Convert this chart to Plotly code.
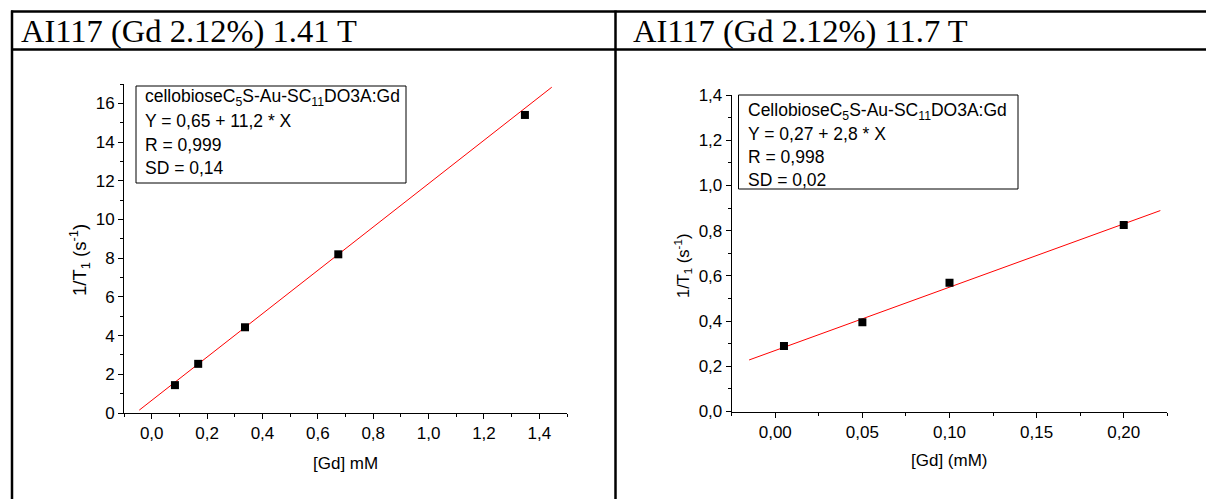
import plotly.graph_objects as go

# ---- data -------------------------------------------------------------
# 1.41 T relaxivity series
gd_141 = [0.084, 0.168, 0.337, 0.674, 1.348]          # [Gd] mM
r1_141 = [1.44, 2.54, 4.43, 8.20, 15.40]              # 1/T1 (s^-1)
fit_141 = {"a": 0.65, "b": 11.2, "x0": -0.045, "x1": 1.445}
stats_141 = ["cellobioseC<sub>5</sub>S-Au-SC<sub>11</sub>DO3A:Gd",
             "Y = 0,65 + 11,2 * X", "R = 0,999", "SD = 0,14"]

# 11.7 T relaxivity series
gd_117 = [0.005, 0.05, 0.10, 0.20]                    # [Gd] mM
r1_117 = [0.29, 0.395, 0.57, 0.825]                   # 1/T1 (s^-1)
fit_117 = {"a": 0.27, "b": 2.8, "x0": -0.015, "x1": 0.221}
stats_117 = ["CellobioseC<sub>5</sub>S-Au-SC<sub>11</sub>DO3A:Gd",
             "Y = 0,27 + 2,8 * X", "R = 0,998", "SD = 0,02"]

headers = ["AI117 (Gd 2.12%) 1.41 T", "AI117 (Gd 2.12%) 11.7 T"]

# ---- page geometry (pixels) -----------------------------------------
W, H = 1206, 499
def fx(p):
    return p / W
def fy(p):
    return 1 - p / H

SANS = "Liberation Sans, Arial, sans-serif"
SERIF = "Liberation Serif, Times New Roman, serif"
FS = 17

fig = go.Figure()

def add_panel(xs, ys, fit, xa, ya):
    lx = [fit["x0"], fit["x1"]]
    ly = [fit["a"] + fit["b"] * v for v in lx]
    fig.add_trace(go.Scatter(x=lx, y=ly, mode="lines", xaxis=xa, yaxis=ya,
                             line=dict(color="#ff0000", width=1),
                             hoverinfo="skip"))
    fig.add_trace(go.Scatter(x=xs, y=ys, mode="markers", xaxis=xa, yaxis=ya,
                             marker=dict(symbol="square", size=8, color="black",
                                         line=dict(width=0))))

add_panel(gd_141, r1_141, fit_141, "x", "y")
add_panel(gd_117, r1_117, fit_117, "x2", "y2")

def axis(domain, rng, dtick, minor, fmt, anchor):
    return dict(domain=domain, range=rng, dtick=dtick, tick0=0,
                tickformat=fmt, anchor=anchor, automargin=False,
                showline=True, linecolor="black", linewidth=1,
                ticks="outside", ticklen=5, tickwidth=1, tickcolor="black",
                minor=dict(dtick=minor, ticks="outside", ticklen=3,
                           tickwidth=1, tickcolor="black"),
                showgrid=False, zeroline=False,
                tickfont=dict(family=SANS, size=FS, color="black"))

# left panel frame: x 124..567, y 84..413 ; right panel frame: x 731.7..1167.3, y 95..411.5
fig.update_layout(
    xaxis=axis([fx(124), fx(567)], [-0.1, 1.5], 0.2, 0.1, ".1f", "y"),
    yaxis=axis([fy(413), fy(84)], [0, 17], 2, 1, "d", "x"),
    xaxis2=axis([fx(731.7), fx(1167.3)], [-0.025, 0.225], 0.05, 0.025, ".2f", "y2"),
    yaxis2=axis([fy(411.5), fy(95)], [0, 1.4], 0.2, 0.1, ".1f", "x2"),
)

shapes = []
annotations = []

# table rules
lw = 2.5
for y in (11.5, 49.5):
    shapes.append(dict(type="line", xref="paper", yref="paper",
                       x0=fx(11), x1=1.02, y0=fy(y), y1=fy(y),
                       line=dict(color="black", width=lw)))
for x in (12, 615.5):
    shapes.append(dict(type="line", xref="paper", yref="paper",
                       x0=fx(x), x1=fx(x), y0=fy(10.5), y1=-0.02,
                       line=dict(color="black", width=lw)))

# header cells
for text, x in zip(headers, (19, 631)):
    annotations.append(dict(text=text, xref="paper", yref="paper",
                            x=fx(x), y=fy(30.5), xanchor="left", yanchor="middle",
                            showarrow=False,
                            font=dict(family=SERIF, size=32.5, color="black")))

# fit statistics boxes
def stat_box(lines, left, top, right, bottom, tx, ty0, step):
    shapes.append(dict(type="rect", xref="paper", yref="paper",
                       x0=fx(left), x1=fx(right), y0=fy(bottom), y1=fy(top),
                       line=dict(color="black", width=1), fillcolor="white"))
    for i, t in enumerate(lines):
        annotations.append(dict(text=t, xref="paper", yref="paper",
                                x=fx(tx), y=fy(ty0 + i * step),
                                xanchor="left", yanchor="middle",
                                showarrow=False,
                                font=dict(family=SANS, size=17.5, color="black")))

stat_box(stats_141, 136, 86, 406, 183, 143, 98, 23.5)
stat_box(stats_117, 738.5, 95, 1018, 189, 746, 111, 23)

# axis titles
def title(text, x, y, angle=0, size=FS):
    annotations.append(dict(text=text, xref="paper", yref="paper",
                            x=fx(x), y=fy(y), xanchor="center", yanchor="middle",
                            textangle=angle, showarrow=False,
                            font=dict(family=SANS, size=size, color="black")))

title("[Gd] mM", 345.5, 463)
title("[Gd] (mM)", 949.5, 460)
ytitle = "1/T<sub>1</sub> (s<sup>-1</sup>)"
title(ytitle, 79, 260, -90, 18.5)
title(ytitle, 683, 266, -90, 16.5)

fig.update_layout(
    width=W, height=H,
    margin=dict(l=0, r=0, t=0, b=0, autoexpand=False),
    paper_bgcolor="white", plot_bgcolor="white",
    showlegend=False,
    separators=", ",
    shapes=shapes, annotations=annotations,
)

fig.write_html("out.html")
